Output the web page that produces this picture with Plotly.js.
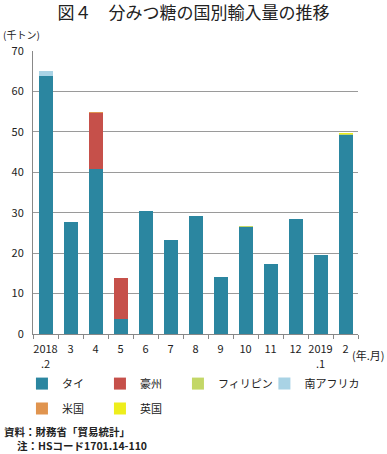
<!DOCTYPE html>
<html>
<head>
<meta charset="utf-8">
<script src="https://cdn.plot.ly/plotly-3.0.1.min.js"></script>
<style>
html,body{margin:0;padding:0;background:#fff;}
#chart{width:387px;height:454px;}
</style>
</head>
<body>
<div id="chart"></div>
<script>
const categories = ["2018<br>.2","3","4","5","6","7","8","9","10","11","12","2019<br>.1","2"];
const thai        = [63.9, 27.8, 40.8, 3.7, 30.5, 23.2, 29.2, 14.1, 26.4, 17.3, 28.4, 19.6, 49.2];
const australia   = [0, 0, 13.8, 10.2, 0, 0, 0, 0, 0, 0, 0, 0, 0];
const philippines = [0, 0, 0, 0, 0, 0, 0, 0, 0.3, 0, 0, 0, 0.3];
const southAfrica = [1.2, 0, 0, 0, 0, 0, 0, 0, 0, 0, 0, 0, 0];
const usa         = [0, 0, 0.2, 0, 0, 0, 0, 0, 0, 0, 0, 0, 0];
const uk          = [0, 0, 0, 0, 0, 0, 0, 0, 0, 0, 0, 0, 0.1];
const seriesNames = ["タイ","豪州","フィリピン","南アフリカ","米国","英国"];
const seriesColors = ["#2b86a0","#c6504a","#c3d767","#a9d3e5","#e0944f","#eeee1c"];
const yTicks = [0,10,20,30,40,50,60,70];

const font = "Noto Sans CJK JP, Noto Sans, sans-serif";
const seriesData = [thai, australia, philippines, southAfrica, usa, uk];
const legendIds = ["legend","legend2","legend3","legend4","legend5","legend6"];
const traces = seriesData.map((vals, i) => ({
  type: "bar",
  name: seriesNames[i],
  x: categories,
  y: vals,
  legend: legendIds[i],
  marker: {color: seriesColors[i], line: {width: 0}},
  hoverinfo: "x+y+name"
}));

// legend grid placement (paper coords)
const legendX = [-0.034, 0.206, 0.446, 0.712, -0.034, 0.206];
const legendY = [-0.124, -0.124, -0.124, -0.124, -0.212, -0.212];

const layout = {
  width: 387, height: 454,
  margin: {l: 33, r: 29, t: 51, b: 120},
  paper_bgcolor: "#fff", plot_bgcolor: "#fff",
  barmode: "stack",
  bargap: 0.44,
  font: {family: font, size: 11, color: "#222"},
  title: {text: "図４　分みつ糖の国別輸入量の推移", x: 0.5, xanchor: "center", y: 0.985, yanchor: "top",
          font: {family: font, size: 17, color: "#222"}},
  xaxis: {
    type: "category",
    tickson: "boundaries",
    tickangle: 0,
    ticks: "outside", ticklen: 4, tickcolor: "#888",
    showline: true, linecolor: "#888", linewidth: 1,
    showgrid: false,
    ticklabelstandoff: 5,
    tickfont: {family: font, size: 11, color: "#222"},
    fixedrange: true
  },
  yaxis: {
    range: [0, 70],
    tickvals: yTicks,
    ticks: "", showline: true, linecolor: "#888", linewidth: 1,
    showgrid: true, gridcolor: "#9a9a9a", gridwidth: 1,
    zeroline: false,
    tickfont: {family: font, size: 11, color: "#222"},
    ticklabelstandoff: 6,
    fixedrange: true
  },
  showlegend: true,
  annotations: [
    {text: "(千トン)", xref: "paper", yref: "paper", x: -0.1, xanchor: "left", y: 1.06, yanchor: "middle",
     showarrow: false, font: {family: font, size: 10, color: "#222"}},
    {text: "(年.月)", xref: "paper", yref: "paper", x: 1.089, xanchor: "right", y: -0.075, yanchor: "middle",
     showarrow: false, font: {family: font, size: 11, color: "#222"}},
    {text: "<b>資料：財務省「貿易統計」</b>", xref: "paper", yref: "paper", x: -0.095, xanchor: "left", y: -0.346, yanchor: "middle",
     showarrow: false, font: {family: font, size: 10.5, color: "#222"}},
    {text: "<b>注：HSコード1701.14-110</b>", xref: "paper", yref: "paper", x: -0.055, xanchor: "left", y: -0.395, yanchor: "middle",
     showarrow: false, font: {family: font, size: 10.5, color: "#222"}}
  ]
};
legendIds.forEach((id, i) => {
  layout[id] = {
    orientation: "h", x: legendX[i], xanchor: "left", y: legendY[i], yanchor: "top",
    itemwidth: 30, bgcolor: "rgba(0,0,0,0)",
    font: {family: font, size: 11, color: "#222"}
  };
});

Plotly.newPlot("chart", traces, layout, {displayModeBar: false, staticPlot: true});
</script>
</body>
</html>
